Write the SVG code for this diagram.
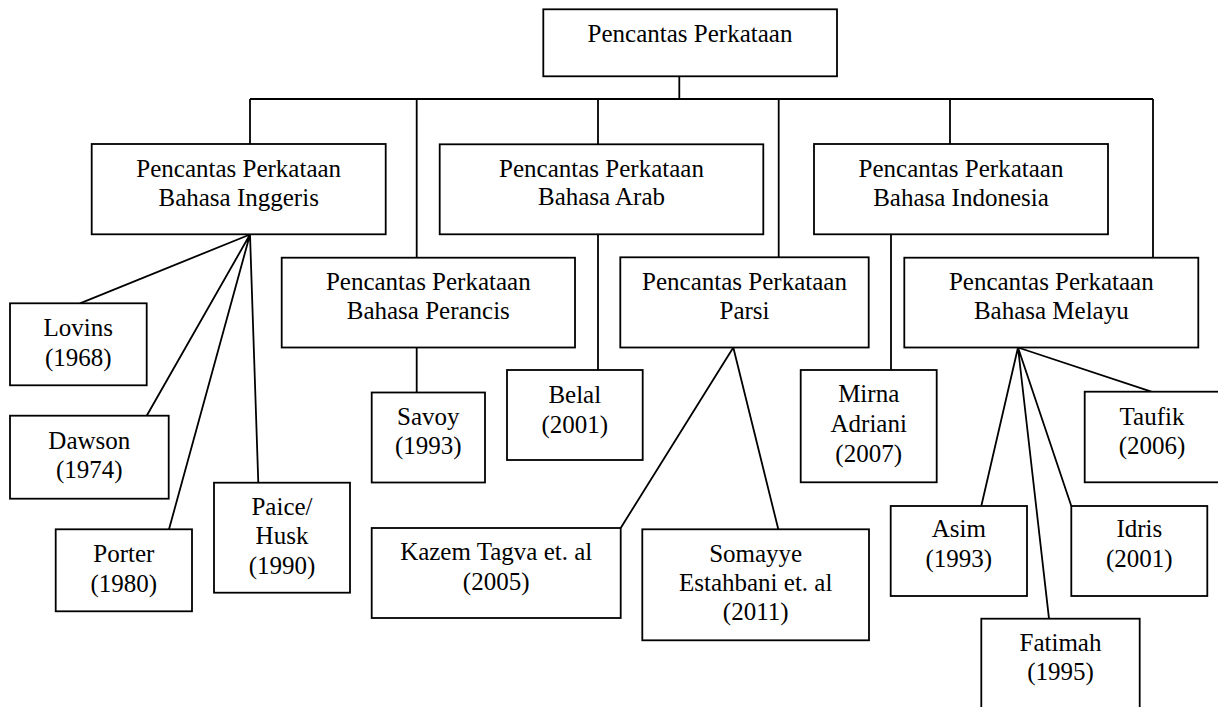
<svg xmlns="http://www.w3.org/2000/svg" width="1218" height="707" viewBox="0 0 1218 707">
<style>
.box{fill:#fff;stroke:#000;stroke-width:1.8}
.t{font-family:'Liberation Serif','Times New Roman','DejaVu Serif',serif;font-size:25px;fill:#000;text-anchor:middle}
.c{fill:none;stroke:#000;stroke-width:1.8}
</style>
<rect width="1218" height="707" fill="#fff"/>
<g id="connectors">
<path class="c" d="M679.3 76.3V99M250 99H1153M250 99V144M416.7 99V257.7M598 99V144M778.7 99V257.3M950 99V144M1153 99V257.7"/>
<path class="c" d="M416.7 347.5V392.5M598 234.3V370M891 234.3V370"/>
<path class="c" d="M250 234.5L80 303.3M250 234.5L146.7 415.7M250 234.5L169 529.3M250 234.5L258.3 482.7"/>
<path class="c" d="M733.3 347.5L620.7 528M733.3 347.5L778.3 529.3"/>
<path class="c" d="M1018 347.5L981.3 506M1018 347.5L1049 618.7M1018 347.5L1071.3 506M1018 347.5L1151.3 391.7"/>
</g>
<g font-family="Liberation Serif, Times New Roman, serif">
<g id="root"><rect class="box" x="543.3" y="9.3" width="293.7" height="67"/><text class="t" x="690" y="41.7">Pencantas Perkataan</text></g>
<g id="inggeris"><rect class="box" x="91.7" y="144" width="294" height="90.3"/><text class="t" x="238.7" y="177.3">Pencantas Perkataan</text><text class="t" x="238.7" y="206">Bahasa Inggeris</text></g>
<g id="arab"><rect class="box" x="439.7" y="144.3" width="323.6" height="90"/><text class="t" x="601.5" y="176.7">Pencantas Perkataan</text><text class="t" x="601.5" y="205">Bahasa Arab</text></g>
<g id="indonesia"><rect class="box" x="814" y="144" width="294" height="90.3"/><text class="t" x="961" y="177">Pencantas Perkataan</text><text class="t" x="961" y="205.7">Bahasa Indonesia</text></g>
<g id="perancis"><rect class="box" x="281.7" y="257.7" width="293.3" height="89.8"/><text class="t" x="428.3" y="290">Pencantas Perkataan</text><text class="t" x="428.3" y="318.5">Bahasa Perancis</text></g>
<g id="parsi"><rect class="box" x="620.3" y="257.3" width="248.4" height="90.2"/><text class="t" x="744.5" y="290">Pencantas Perkataan</text><text class="t" x="744.5" y="318.5">Parsi</text></g>
<g id="melayu"><rect class="box" x="904.3" y="257.7" width="294" height="89.8"/><text class="t" x="1051.3" y="290">Pencantas Perkataan</text><text class="t" x="1051.3" y="318.5">Bahasa Melayu</text></g>
<g id="lovins"><rect class="box" x="10" y="303.3" width="136.7" height="82"/><text class="t" x="78.3" y="336">Lovins</text><text class="t" x="78.3" y="365.5">(1968)</text></g>
<g id="dawson"><rect class="box" x="10" y="415.7" width="158.7" height="83"/><text class="t" x="89.3" y="449.3">Dawson</text><text class="t" x="89.3" y="478.3">(1974)</text></g>
<g id="porter"><rect class="box" x="55.7" y="529.3" width="136.3" height="82"/><text class="t" x="123.8" y="562.3">Porter</text><text class="t" x="123.8" y="591.7">(1980)</text></g>
<g id="paice"><rect class="box" x="214" y="482.7" width="136" height="110"/><text class="t" x="282" y="515">Paice/</text><text class="t" x="282" y="544.3">Husk</text><text class="t" x="282" y="574">(1990)</text></g>
<g id="savoy"><rect class="box" x="371.7" y="392.5" width="113.3" height="90"/><text class="t" x="428.3" y="425">Savoy</text><text class="t" x="428.3" y="454.3">(1993)</text></g>
<g id="belal"><rect class="box" x="507" y="370" width="135.7" height="90"/><text class="t" x="574.8" y="402.7">Belal</text><text class="t" x="574.8" y="432.7">(2001)</text></g>
<g id="kazem"><rect class="box" x="371.7" y="528" width="249" height="90"/><text class="t" x="496.2" y="560">Kazem Tagva et. al</text><text class="t" x="496.2" y="590">(2005)</text></g>
<g id="somayye"><rect class="box" x="642.3" y="529.3" width="226.7" height="111"/><text class="t" x="755.7" y="561.7">Somayye</text><text class="t" x="755.7" y="590.7">Estahbani et. al</text><text class="t" x="755.7" y="620">(2011)</text></g>
<g id="mirna"><rect class="box" x="800.7" y="370" width="136" height="112.3"/><text class="t" x="868.7" y="402.3">Mirna</text><text class="t" x="868.7" y="431.7">Adriani</text><text class="t" x="868.7" y="461.5">(2007)</text></g>
<g id="taufik"><rect class="box" x="1084.7" y="391.7" width="136.5" height="90.6"/><text class="t" x="1152" y="425">Taufik</text><text class="t" x="1152" y="454.3">(2006)</text></g>
<g id="asim"><rect class="box" x="890.7" y="506" width="136.3" height="90"/><text class="t" x="958.8" y="537.3">Asim</text><text class="t" x="958.8" y="567.3">(1993)</text></g>
<g id="idris"><rect class="box" x="1071.3" y="506" width="136" height="90"/><text class="t" x="1139.3" y="537.3">Idris</text><text class="t" x="1139.3" y="567.3">(2001)</text></g>
<g id="fatimah"><rect class="box" x="981.3" y="618.7" width="158.4" height="100"/><text class="t" x="1060.5" y="650.7">Fatimah</text><text class="t" x="1060.5" y="680">(1995)</text></g>
</g>
</svg>
